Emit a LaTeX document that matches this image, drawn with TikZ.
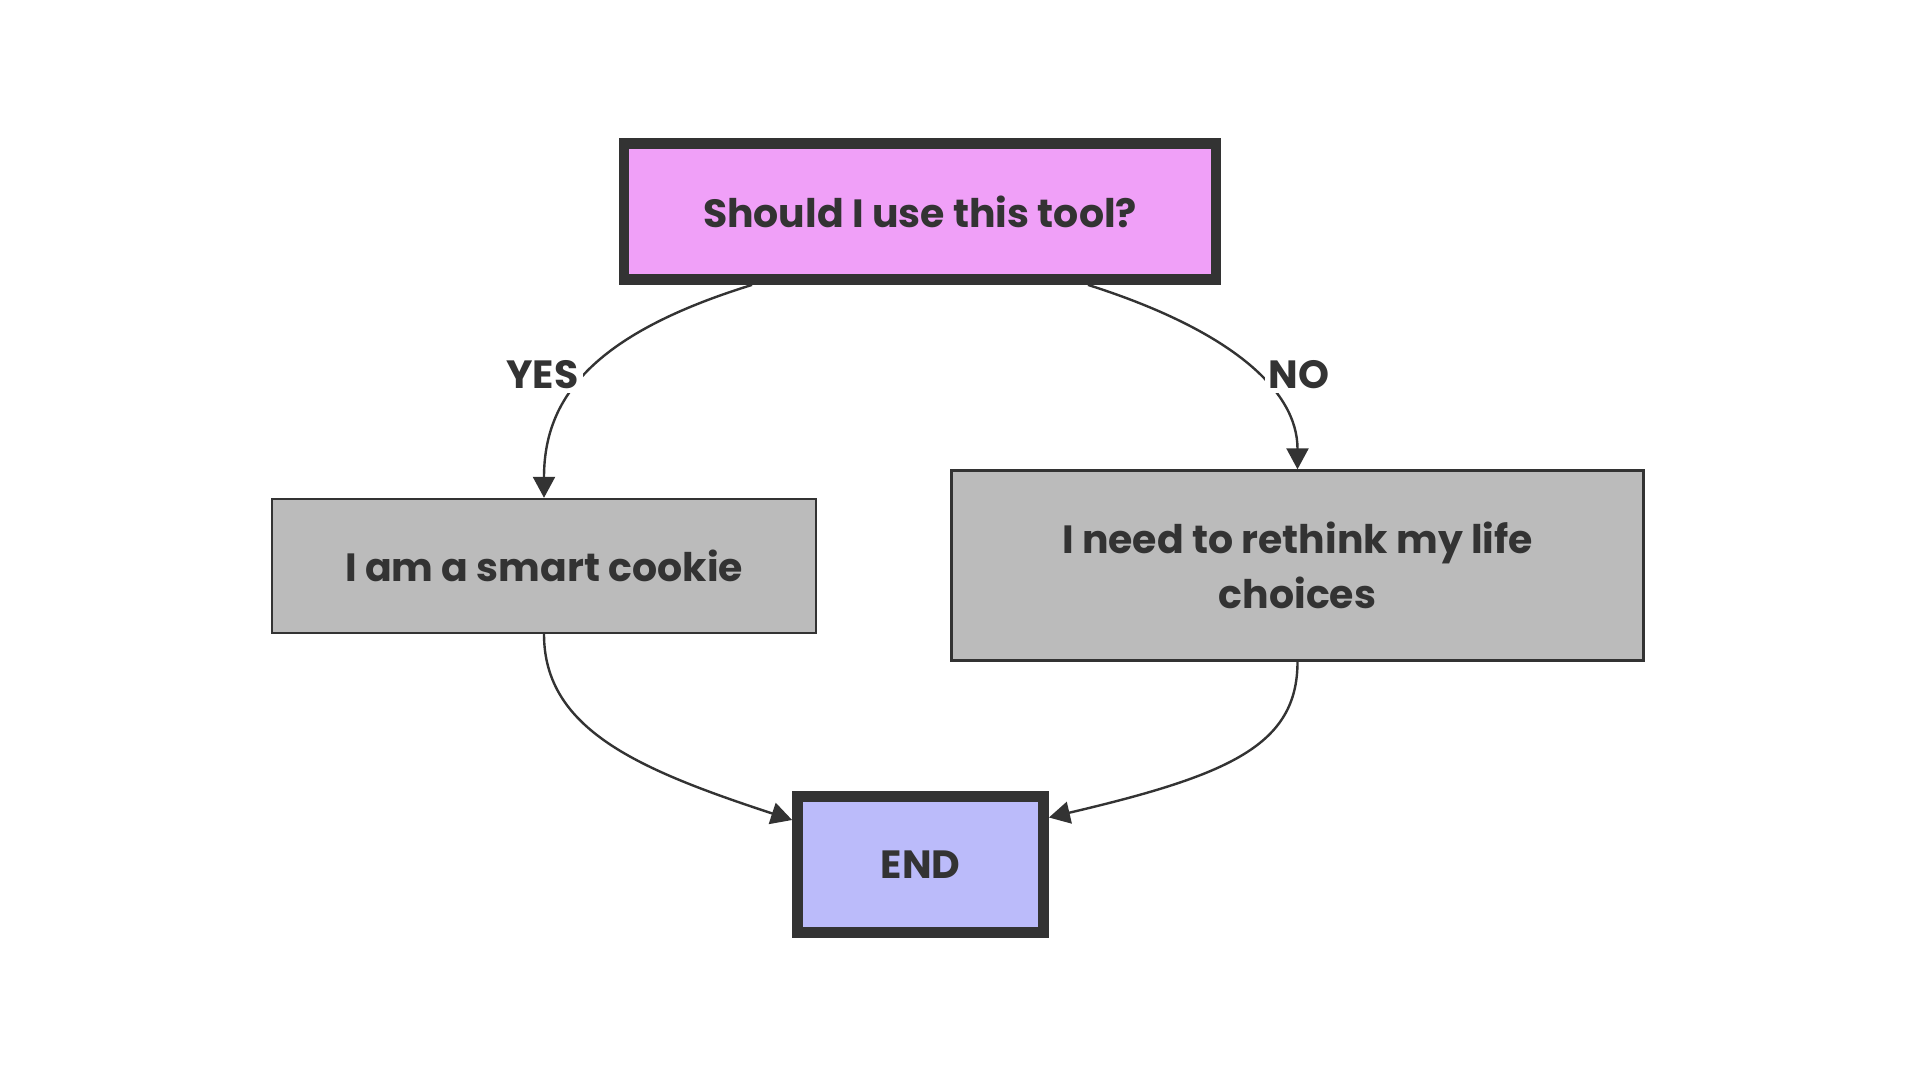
\documentclass[tikz,border=0pt]{standalone}
\usepackage{fontspec}
\setmainfont{Poppins}
\usetikzlibrary{arrows.meta,calc}
\definecolor{ink}{HTML}{333333}
\definecolor{pinkfill}{HTML}{F0A0F8}
\definecolor{greyfill}{HTML}{BBBBBB}
\definecolor{endfill}{HTML}{BBBBFA}
\tikzset{
  txt/.style={font=\fontsize{19.7}{27.5}\selectfont\bfseries, text=ink, align=center, inner sep=0pt},
  thickbox/.style={txt, rectangle, draw=ink, line width=5.4pt},
  thinbox/.style={txt, rectangle, draw=ink, line width=1.2pt, fill=greyfill},
  edge/.style={draw=ink, line width=1.2pt, -{Triangle[length=10.5pt,width=11pt]}},
  lab/.style={txt, fill=white, inner sep=2pt}
}
\begin{document}
\begin{tikzpicture}[x=0.5pt,y=-0.5pt]
\useasboundingbox (0,0) rectangle (1920,1080);
\fill[white] (0,0) rectangle (1920,1080);
\node[thickbox, fill=pinkfill, minimum width=296pt, minimum height=68pt] (top) at (920,211.5) {Should I use this tool?};
\node[thinbox, minimum width=272pt, minimum height=67pt] (left) at (544,566) {I am a smart cookie};
\node[thinbox, minimum width=346pt, minimum height=95pt] (right) at (1297.5,565.5) {I need to rethink my life\\choices};
\node[thickbox, fill=endfill, minimum width=123pt, minimum height=68pt] (end) at (920.5,864.5) {END};
\draw[edge] ($(top.south)+(-168,0)$) .. controls (590,335) and (544,400) .. (left.north);
\draw[edge] ($(top.south)+(168,0)$) .. controls (1230,330) and (1297.5,390) .. (right.north);
\draw[edge] (left.south) .. controls (544,730) and (640,770) .. ($(end.west)+(0,-44.5)$);
\draw[edge] (right.south) .. controls (1297.5,745) and (1230,775) .. ($(end.east)+(0,-47)$);
\node[lab] (yes) at (542.5,375) {YES};
\node[lab] (no) at (1299,375) {NO};
\end{tikzpicture}
\end{document}
